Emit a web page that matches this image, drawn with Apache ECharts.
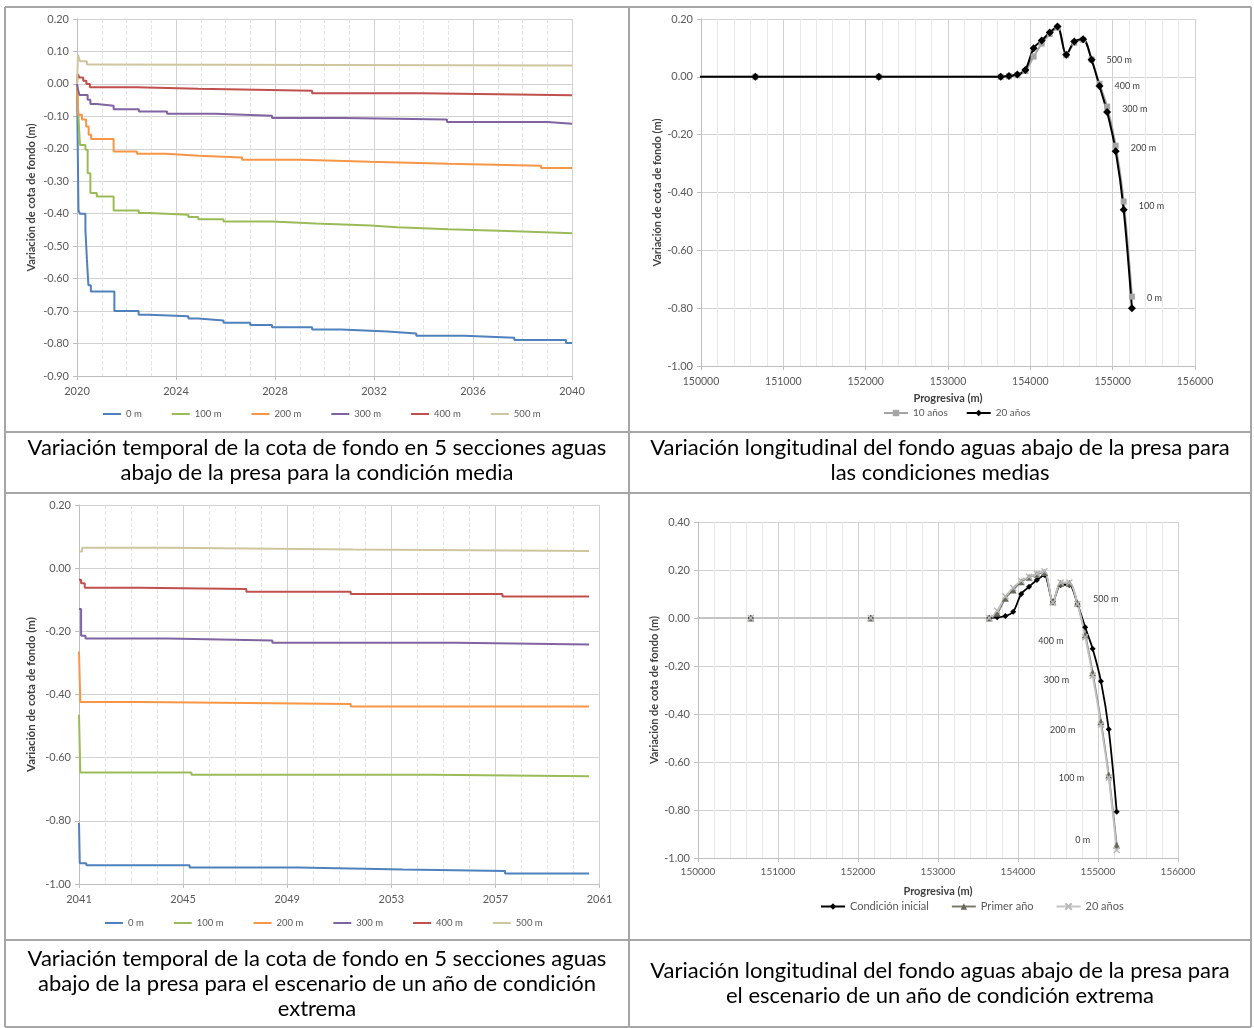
<!DOCTYPE html>
<html>
<head>
<meta charset="utf-8">
<script src="https://cdn.jsdelivr.net/npm/echarts@6/dist/echarts.min.js"></script>
<style>
  html, body { margin: 0; padding: 0; background: #ffffff; }
  #chart { width: 1254px; height: 1028px; }
</style>
</head>
<body>
<div id="chart"></div>
<script>
// ---------- Datos ----------
// Secciones aguas abajo de la presa
const secciones = ['0 m', '100 m', '200 m', '300 m', '400 m', '500 m'];

// Condición media: [año, variación de cota de fondo (m)]
const media0m   = [[2020,0],[2020.06,-0.39],[2020.12,-0.40],[2020.34,-0.45],[2020.40,-0.54],[2020.46,-0.62],[2020.56,-0.64],[2021.51,-0.70],[2022.49,-0.711],[2022.90,-0.716],[2024.50,-0.723],[2024.90,-0.729],[2025.92,-0.736],[2027.00,-0.743],[2027.88,-0.750],[2029.50,-0.757],[2030.67,-0.763],[2032.55,-0.769],[2033.71,-0.776],[2035.65,-0.782],[2037.67,-0.789],[2039.76,-0.798],[2040,-0.798]];
const media100m = [[2020,0],[2020.05,-0.09],[2020.12,-0.188],[2020.34,-0.203],[2020.43,-0.275],[2020.54,-0.336],[2020.80,-0.347],[2021.48,-0.390],[2022.50,-0.398],[2022.90,-0.403],[2024.50,-0.410],[2024.90,-0.417],[2025.92,-0.424],[2027.88,-0.430],[2029.65,-0.436],[2031.85,-0.442],[2032.93,-0.448],[2035.01,-0.454],[2037.71,-0.460],[2040,-0.460]];
const media200m = [[2020,0],[2020.05,-0.095],[2020.20,-0.110],[2020.37,-0.131],[2020.47,-0.157],[2020.57,-0.170],[2021.48,-0.208],[2022.42,-0.215],[2023.60,-0.221],[2024.91,-0.227],[2026.67,-0.234],[2029.02,-0.240],[2031.85,-0.246],[2035.01,-0.252],[2038.75,-0.259],[2040,-0.259]];
const media300m = [[2020,0],[2020.05,-0.020],[2020.10,-0.034],[2020.43,-0.049],[2020.54,-0.062],[2020.80,-0.067],[2021.48,-0.078],[2022.50,-0.085],[2023.64,-0.092],[2025.59,-0.098],[2027.88,-0.105],[2030.75,-0.110],[2034.95,-0.117],[2039.01,-0.123],[2040,-0.123]];
const media400m = [[2020,0],[2020.03,0.030],[2020.10,0.020],[2020.25,0.010],[2020.38,0.000],[2020.52,-0.010],[2022.40,-0.015],[2024.90,-0.021],[2029.50,-0.029],[2033.94,-0.035],[2040,-0.035]];
const media500m = [[2020,0],[2020.04,0.090],[2020.12,0.070],[2020.40,0.060],[2020.55,0.057],[2040,0.057]];

// Año de condición extrema: [año, variación de cota de fondo (m)]
const anioBaseExtrema = 2041;
const extrema0m   = [[2041,-0.807],[2041.03,-0.934],[2041.28,-0.941],[2045.25,-0.948],[2049.42,-0.954],[2053.45,-0.959],[2057.37,-0.967],[2060.6,-0.967]];
const extrema100m = [[2041,-0.464],[2041.05,-0.647],[2045.32,-0.654],[2054.54,-0.659],[2060.6,-0.659]];
const extrema200m = [[2041,-0.264],[2041.05,-0.424],[2043.40,-0.430],[2051.44,-0.438],[2060.6,-0.438]];
const extrema300m = [[2041,-0.129],[2041.08,-0.214],[2041.25,-0.223],[2044.42,-0.229],[2048.43,-0.236],[2055.50,-0.242],[2060.6,-0.242]];
const extrema400m = [[2041,-0.037],[2041.08,-0.048],[2041.22,-0.062],[2043.33,-0.066],[2047.43,-0.075],[2051.44,-0.082],[2057.27,-0.090],[2060.6,-0.090]];
const extrema500m = [[2041,0.053],[2041.12,0.065],[2044.42,0.059],[2051.53,0.054],[2060.6,0.054]];

// Perfil longitudinal: progresiva (m) y etiqueta de sección
const progresiva = [149160,150660,152160,153640,153740,153842,153940,154040,154138,154236,154330,154436,154534,154641,154744,154840,154933,155037,155134,155234];
const etiquetasSeccion = ['','','','','','','','','','','','','','','500 m','400 m','300 m','200 m','100 m','0 m'];

// Condiciones medias
const medias10anios = [0,0,0,0,0.002,0.006,0.020,0.070,0.115,0.148,0.170,0.075,0.118,0.128,0.060,-0.024,-0.103,-0.238,-0.431,-0.760];
const medias20anios = [0,0,0,0,0.003,0.008,0.024,0.099,0.126,0.153,0.174,0.076,0.122,0.130,0.059,-0.032,-0.122,-0.257,-0.460,-0.800];

// Escenario de un año de condición extrema
const extremaInicial   = [0,0,0,0,0.003,0.008,0.026,0.100,0.130,0.158,0.179,0.068,0.138,0.138,0.058,-0.039,-0.128,-0.264,-0.464,-0.807];
const extremaPrimerAno = [0,0,0,0,0.020,0.082,0.117,0.151,0.170,0.182,0.190,0.068,0.145,0.145,0.061,-0.071,-0.228,-0.432,-0.654,-0.946];
const extrema20anios   = [0,0,0,0,0.030,0.090,0.125,0.155,0.172,0.185,0.195,0.065,0.148,0.148,0.058,-0.080,-0.240,-0.445,-0.665,-0.967];

// ---------- Estilo ----------
const FONT = 'Lato';
const coloresSeccion = ['#4F81BD', '#9BBB59', '#F79646', '#8064A2', '#C0504D', '#CFC6A0'];
const GRID_MAJOR = '#D2D2D2';
const GRID_MINOR = '#E9E9E9';
const AXIS_COLOR = '#BFBFBF';
const LABEL_COLOR = '#595959';

const fmt2 = v => (Math.abs(v) < 1e-9 ? 0 : v).toFixed(2);

function xAxisBase(gridIndex, min, max, interval, minorSplit, labelSize, margin, extra) {
  return Object.assign({
    gridIndex, type: 'value', min, max, interval,
    axisLine: { show: true, onZero: false, lineStyle: { color: AXIS_COLOR, width: 1 } },
    axisTick: { show: true, length: 4, lineStyle: { color: AXIS_COLOR } },
    axisLabel: { fontSize: labelSize, color: LABEL_COLOR, fontFamily: FONT, margin, formatter: v => String(v) },
    splitLine: { show: true, lineStyle: { color: GRID_MAJOR, width: 1 } },
    minorTick: { show: false, splitNumber: minorSplit },
    minorSplitLine: { show: true, lineStyle: { color: GRID_MINOR, width: 1 } }
  }, extra || {});
}

function yAxisBase(gridIndex, min, max, interval, nameGap, nameSize) {
  return {
    gridIndex, type: 'value', min, max, interval,
    name: 'Variación de cota de fondo (m)',
    nameLocation: 'middle', nameGap, nameRotate: 90,
    nameTextStyle: { fontWeight: 'bold', fontSize: nameSize, color: '#404040', fontFamily: FONT },
    axisLine: { show: true, onZero: false, lineStyle: { color: AXIS_COLOR, width: 1 } },
    axisTick: { show: true, length: 4, lineStyle: { color: AXIS_COLOR } },
    axisLabel: { fontSize: 11, color: LABEL_COLOR, fontFamily: FONT, margin: 8, formatter: fmt2 },
    splitLine: { show: true, lineStyle: { color: GRID_MAJOR, width: 1 } }
  };
}

// ---------- Series temporales ----------
const seriesMedia = [media0m, media100m, media200m, media300m, media400m, media500m];
const seriesExtrema = [extrema0m, extrema100m, extrema200m, extrema300m, extrema400m, extrema500m];

const series = [];
seriesMedia.forEach((d, i) => {
  series.push({
    name: secciones[i], type: 'line', xAxisIndex: 0, yAxisIndex: 0,
    step: 'end', symbol: 'none', data: d,
    lineStyle: { color: coloresSeccion[i], width: 2 },
    itemStyle: { color: coloresSeccion[i] }
  });
});
seriesExtrema.forEach((d, i) => {
  series.push({
    name: secciones[i], type: 'line', xAxisIndex: 2, yAxisIndex: 2,
    step: 'end', symbol: 'none',
    data: d.map(p => [p[0] - anioBaseExtrema, p[1]]),
    lineStyle: { color: coloresSeccion[i], width: 2 },
    itemStyle: { color: coloresSeccion[i] }
  });
});

// ---------- Perfiles longitudinales ----------
const dyMedias = { 16: -3, 17: -3, 18: -4, 19: -10 };
series.push({
  name: '10 años', type: 'line', xAxisIndex: 1, yAxisIndex: 1, smooth: 0.3,
  symbol: 'rect', symbolSize: 6,
  data: progresiva.map((x, i) => [x, medias10anios[i]]),
  lineStyle: { color: '#A6A6A6', width: 2 },
  itemStyle: { color: '#A6A6A6' }
});
series.push({
  name: '20 años', type: 'line', xAxisIndex: 1, yAxisIndex: 1, smooth: 0.3,
  symbol: 'diamond', symbolSize: 8,
  data: progresiva.map((x, i) => ({
    value: [x, medias20anios[i]],
    label: { offset: [0, dyMedias[i] || 0] }
  })),
  lineStyle: { color: '#000000', width: 2 },
  itemStyle: { color: '#000000' },
  label: {
    show: true, position: 'right', distance: 11,
    fontSize: 9, color: '#404040', fontFamily: FONT,
    formatter: p => etiquetasSeccion[p.dataIndex]
  }
});

const layoutExtrema = {
  14: { position: 'right', distance: 12, offset: [0, -4] },
  15: { position: 'left', distance: 18, offset: [0, 6] },
  16: { position: 'left', distance: 20, offset: [0, 7] },
  17: { position: 'left', distance: 22, offset: [0, 8] },
  18: { position: 'left', distance: 21, offset: [0, 3] },
  19: { position: 'left', distance: 23, offset: [0, -5] }
};
series.push({
  name: 'Condición inicial', type: 'line', xAxisIndex: 3, yAxisIndex: 3, smooth: 0.3,
  symbol: 'diamond', symbolSize: 6,
  data: progresiva.map((x, i) => [x, extremaInicial[i]]),
  lineStyle: { color: '#000000', width: 1.8 },
  itemStyle: { color: '#000000' }
});
series.push({
  name: 'Primer año', type: 'line', xAxisIndex: 3, yAxisIndex: 3, smooth: 0.3,
  symbol: 'triangle', symbolSize: 7,
  data: progresiva.map((x, i) => ({
    value: [x, extremaPrimerAno[i]],
    label: layoutExtrema[i] || {}
  })),
  lineStyle: { color: '#7A7B6C', width: 1.8 },
  itemStyle: { color: '#66685A' },
  label: {
    show: true, position: 'left',
    fontSize: 9, color: '#404040', fontFamily: FONT,
    formatter: p => etiquetasSeccion[p.dataIndex]
  }
});
series.push({
  name: '20 años (extrema)', type: 'line', xAxisIndex: 3, yAxisIndex: 3, smooth: 0.3,
  symbol: 'path://M0,0L10,10M10,0L0,10', symbolSize: 6,
  data: progresiva.map((x, i) => [x, extrema20anios[i]]),
  lineStyle: { color: '#C4C4C4', width: 1.8 },
  itemStyle: { color: '#C4C4C4', borderColor: '#B8B8B8', borderWidth: 1.5 }
});

// ---------- Tabla: bordes y textos ----------
const B = '#A6A6A6';
const bordes = [
  [5, 7, 1251, 7], [5, 1027, 1251, 1027], [5, 7, 5, 1027], [1251, 7, 1251, 1027],
  [629, 7, 629, 1027], [5, 432, 1251, 432], [5, 493, 1251, 493], [5, 940, 1251, 940]
].map(s => ({
  type: 'line', silent: true,
  shape: { x1: s[0], y1: s[1], x2: s[2], y2: s[3] },
  style: { stroke: B, lineWidth: 2 }
}));

function rotulo(x, y, text) {
  return {
    type: 'text', x, y, silent: true,
    style: {
      text, align: 'center', verticalAlign: 'middle',
      fontSize: 22, fontFamily: FONT, lineHeight: 25, fill: '#000000'
    }
  };
}
const rotulos = [
  rotulo(317, 460.5, 'Variación temporal de la cota de fondo en 5 secciones aguas\nabajo de la presa para la condición media'),
  rotulo(940, 460.5, 'Variación longitudinal del fondo aguas abajo de la presa para\nlas condiciones medias'),
  rotulo(317, 983.5, 'Variación temporal de la cota de fondo en 5 secciones aguas\nabajo de la presa para el escenario de un año de condición\nextrema'),
  rotulo(940, 983.5, 'Variación longitudinal del fondo aguas abajo de la presa para\nel escenario de un año de condición extrema')
];

// ---------- Opción ----------
const legendText = { fontSize: 9.5, color: LABEL_COLOR, fontFamily: FONT };
const option = {
  animation: false,
  backgroundColor: '#ffffff',
  textStyle: { fontFamily: FONT },
  grid: [
    { left: 77, top: 19, width: 495, height: 357 },
    { left: 701, top: 19, width: 494, height: 347 },
    { left: 79, top: 505, width: 520.5, height: 379 },
    { left: 698, top: 522, width: 480, height: 336 }
  ],
  xAxis: [
    xAxisBase(0, 2020, 2040, 4, 4, 11, 10, {
      minorSplitLine: { show: true, lineStyle: { color: '#E4E4E4', type: 'dashed', width: 1 } }
    }),
    xAxisBase(1, 150000, 156000, 1000, 5, 10.5, 10, {
      name: 'Progresiva (m)', nameLocation: 'middle', nameGap: 27,
      nameTextStyle: { fontWeight: 'bold', fontSize: 11, color: '#404040', fontFamily: FONT }
    }),
    xAxisBase(2, 0, 20, 4, 4, 11, 10, {
      axisLabel: { fontSize: 11, color: LABEL_COLOR, fontFamily: FONT, margin: 10,
                   formatter: v => String(v + anioBaseExtrema) },
      minorSplitLine: { show: true, lineStyle: { color: '#E4E4E4', type: 'dashed', width: 1 } }
    }),
    xAxisBase(3, 150000, 156000, 1000, 5, 10, 9, {
      name: 'Progresiva (m)', nameLocation: 'middle', nameGap: 28,
      nameTextStyle: { fontWeight: 'bold', fontSize: 11, color: '#404040', fontFamily: FONT }
    })
  ],
  yAxis: [
    yAxisBase(0, -0.9, 0.2, 0.1, 40, 11),
    yAxisBase(1, -1.0, 0.2, 0.2, 38, 11),
    yAxisBase(2, -1.0, 0.2, 0.2, 42, 11.5),
    yAxisBase(3, -1.0, 0.4, 0.2, 35, 11)
  ],
  legend: [
    { data: secciones, left: 98, top: 404, icon: 'rect', itemWidth: 18, itemHeight: 2, itemGap: 30, textStyle: legendText },
    { data: ['10 años', '20 años'], left: 878, top: 403, itemWidth: 24, itemHeight: 8, itemGap: 18,
      textStyle: { fontSize: 10, color: LABEL_COLOR, fontFamily: FONT } },
    { data: secciones, left: 100, top: 913, icon: 'rect', itemWidth: 18, itemHeight: 2, itemGap: 30, textStyle: legendText },
    { data: ['Condición inicial', 'Primer año', '20 años (extrema)'], left: 815, top: 896,
      itemWidth: 24, itemHeight: 8, itemGap: 22,
      formatter: n => n.replace(' (extrema)', ''),
      textStyle: { fontSize: 11, color: LABEL_COLOR, fontFamily: FONT } }
  ],
  series,
  graphic: bordes.concat(rotulos)
};

const chart = echarts.init(document.getElementById('chart'), null, { renderer: 'canvas' });
chart.setOption(option);
</script>
</body>
</html>
